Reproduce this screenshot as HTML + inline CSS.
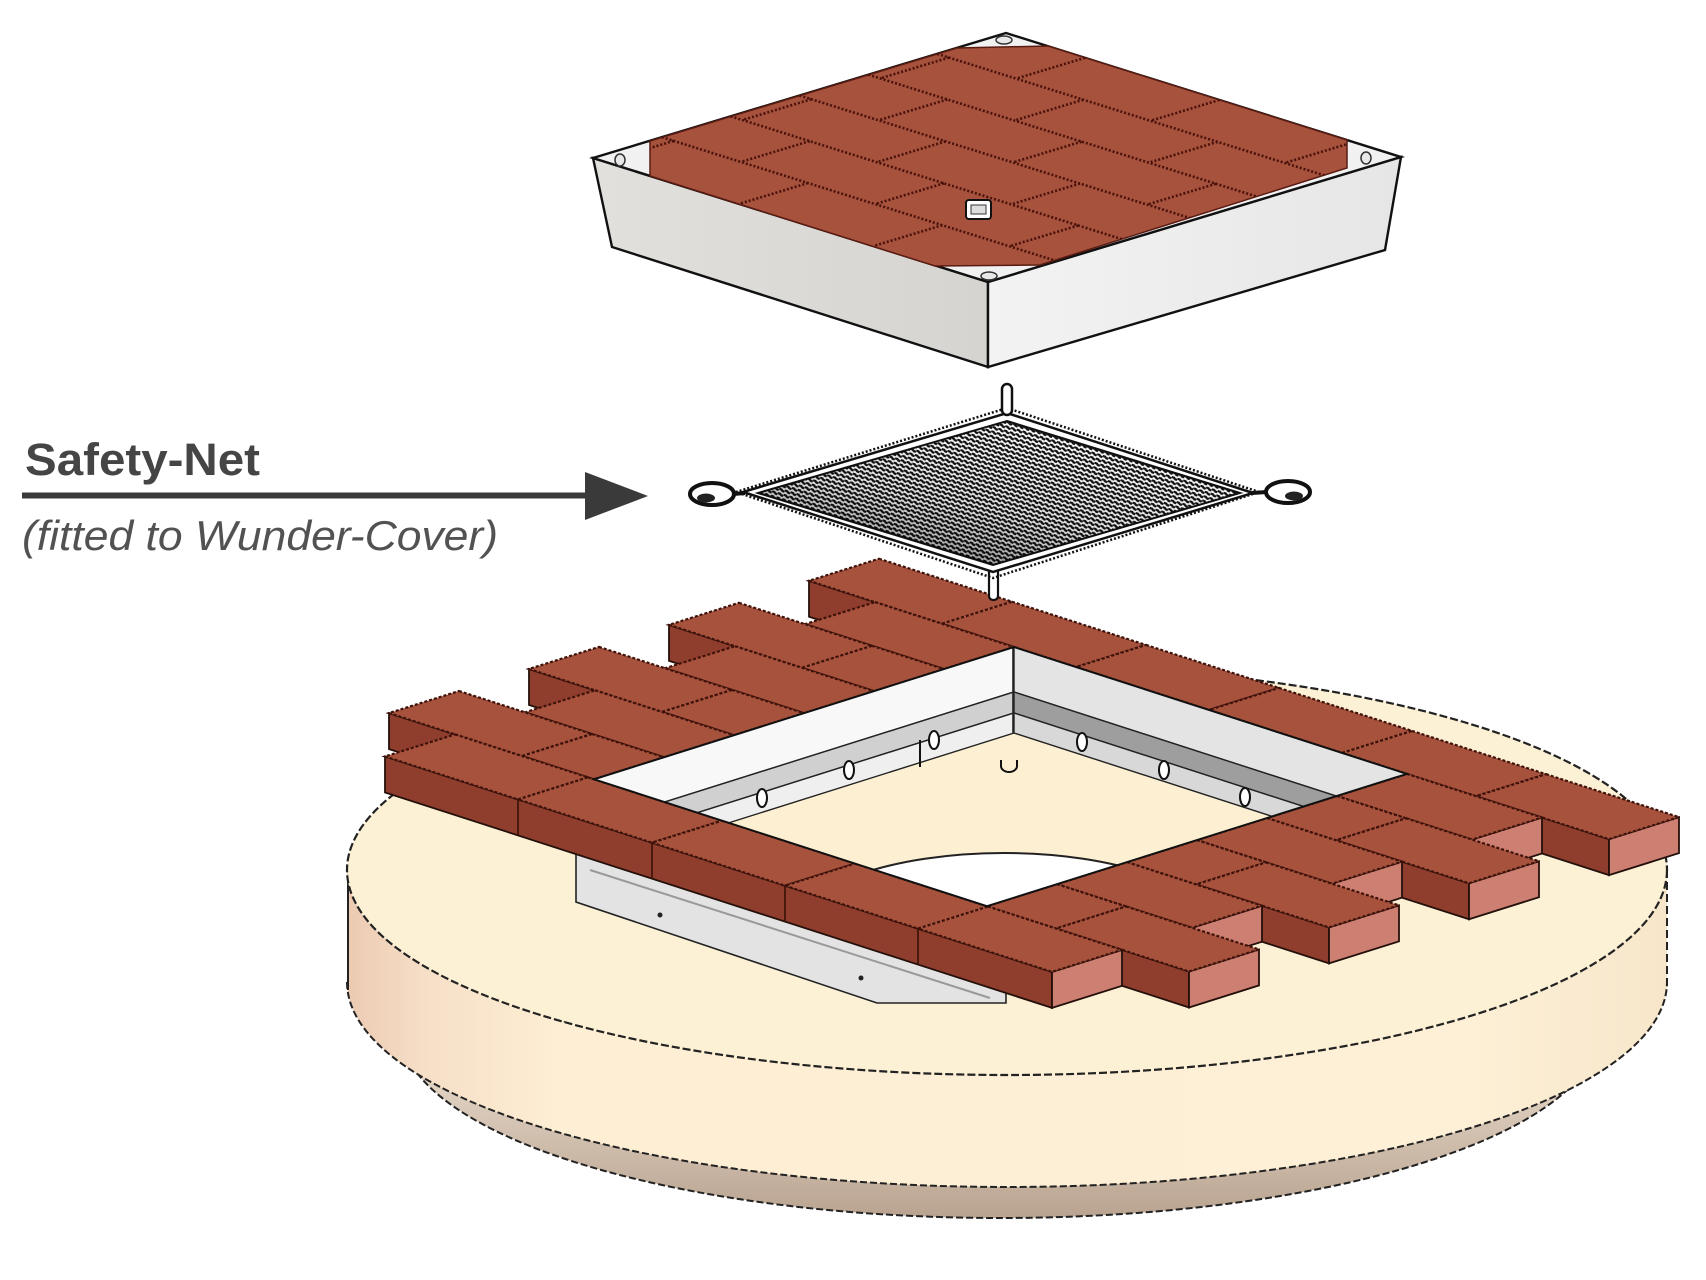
<!DOCTYPE html>
<html>
<head>
<meta charset="utf-8">
<style>
html,body{margin:0;padding:0;background:#fff;}
svg{display:block;}
.t{fill:#a7523d;stroke:#3e120a;stroke-width:2.2;stroke-dasharray:3 2;vector-effect:non-scaling-stroke;}
.sb{fill:#8f3d2c;stroke:#24100a;stroke-width:1.8;vector-effect:non-scaling-stroke;}
.se{fill:#cd7f71;stroke:#24100a;stroke-width:1.8;vector-effect:non-scaling-stroke;}
.w{stroke:#222;stroke-width:1.4;vector-effect:non-scaling-stroke;}
.ln{fill:none;stroke:#3a1208;stroke-width:1.6;vector-effect:non-scaling-stroke;}
</style>
</head>
<body>
<svg width="1706" height="1280" viewBox="0 0 1706 1280" xmlns="http://www.w3.org/2000/svg">
<defs>
  <linearGradient id="sideG" x1="0" y1="0" x2="1" y2="0">
    <stop offset="0" stop-color="#eccab2"/>
    <stop offset="0.06" stop-color="#f6dfc7"/>
    <stop offset="0.16" stop-color="#fdeed4"/>
    <stop offset="0.85" stop-color="#fdf0d6"/>
    <stop offset="1" stop-color="#f7e6ca"/>
  </linearGradient>
  <linearGradient id="bandG" x1="0" y1="0" x2="0" y2="1">
    <stop offset="0.6" stop-color="#e6d8c9"/>
    <stop offset="1" stop-color="#b9a390"/>
  </linearGradient>
  <linearGradient id="coverL" x1="0" y1="0" x2="1" y2="0">
    <stop offset="0" stop-color="#e2e0dc"/>
    <stop offset="1" stop-color="#d6d4d0"/>
  </linearGradient>
  <linearGradient id="coverR" x1="0" y1="0" x2="1" y2="0">
    <stop offset="0" stop-color="#f3f3f3"/>
    <stop offset="1" stop-color="#e6e6e6"/>
  </linearGradient>
  <linearGradient id="darkNet" x1="0" y1="1" x2="0.6" y2="0">
    <stop offset="0" stop-color="#000" stop-opacity="0.55"/>
    <stop offset="0.5" stop-color="#000" stop-opacity="0.12"/>
    <stop offset="1" stop-color="#000" stop-opacity="0"/>
  </linearGradient>
  <pattern id="mesh" width="6" height="4.5" patternUnits="userSpaceOnUse" patternTransform="rotate(17)">
    <rect width="6" height="4.5" fill="#fff"/>
    <path d="M0,1.6 Q1.5,0 3,1.6 T6,1.6" fill="none" stroke="#111" stroke-width="2.3"/>
  </pattern>
  <clipPath id="openClip">
    <polygon points="1014,647 1407,773.9 987,906.2 594,779.3"/>
  </clipPath>
  <clipPath id="redClip">
    <polygon points="957,48 1048,46 1347,140 1347,168 1040,265 935,266 650,176 650,141"/>
  </clipPath>
</defs>

<!-- ===== Base disc ===== -->
<ellipse cx="1000" cy="1028" rx="600" ry="190" fill="url(#bandG)" stroke="#222" stroke-width="2" stroke-dasharray="7 3"/>
<path d="M347,870 L347,982 A660,205 0 0 0 1667,982 L1667,870 Z" fill="url(#sideG)"/>
<path d="M347,982 A660,205 0 0 0 1667,982" fill="none" stroke="#222" stroke-width="2" stroke-dasharray="7 3"/>
<line x1="348" y1="870" x2="348" y2="990" stroke="#222" stroke-width="2"/>
<line x1="1667" y1="870" x2="1667" y2="990" stroke="#222" stroke-width="2" stroke-dasharray="8 4"/>
<ellipse cx="1007" cy="870" rx="660" ry="205" fill="#fdf1d5" stroke="#222" stroke-width="2.2" stroke-dasharray="8 3"/>

<!-- ===== Frame flange below front bricks ===== -->
<polygon points="576,845 576,902 877,1003 1006,1003 1006,988" fill="#e3e3e3" stroke="#222" stroke-width="1.6"/>
<line x1="590" y1="870" x2="990" y2="998" stroke="#999" stroke-width="2"/>
<circle cx="660" cy="915" r="2.5" fill="#222"/>
<circle cx="861" cy="978" r="2.5" fill="#222"/>

<!-- ===== Brick frame (iso coords) ===== -->
<g transform="matrix(1 0.323 -1 0.315 1014 647)">
  <!-- C1 -->
  <polygon class="sb" points="-205,0 595,0 651.4,56.4 -148.6,56.4"/>
  <polygon class="se" points="595,-70 651.4,-13.6 651.4,56.4 595,0"/>
  <rect class="t" x="-205" y="-70" width="133" height="70"/>
  <rect class="t" x="-72" y="-70" width="134" height="70"/>
  <rect class="t" x="62" y="-70" width="133" height="70"/>
  <rect class="t" x="195" y="-70" width="133" height="70"/>
  <rect class="t" x="328" y="-70" width="134" height="70"/>
  <rect class="t" x="462" y="-70" width="133" height="70"/>
  <!-- C2 -->
  <polygon class="sb" points="-139,70 0,70 56.4,126.4 -82.6,126.4"/>
  <rect class="t" x="-139" y="0" width="139" height="70"/>
  <polygon class="sb" points="393,70 528,70 584.4,126.4 449.4,126.4"/>
  <polygon class="se" points="528,0 584.4,56.4 584.4,126.4 528,70"/>
  <rect class="t" x="393" y="0" width="135" height="70"/>
  <!-- C3 -->
  <polygon class="sb" points="-205,140 0,140 56.4,196.4 -148.6,196.4"/>
  <rect class="t" x="-205" y="70" width="133" height="70"/>
  <rect class="t" x="-72" y="70" width="72" height="70"/>
  <polygon class="sb" points="393,140 595,140 651.4,196.4 449.4,196.4"/>
  <polygon class="se" points="595,70 651.4,126.4 651.4,196.4 595,140"/>
  <rect class="t" x="393" y="70" width="69" height="70"/>
  <rect class="t" x="462" y="70" width="133" height="70"/>
  <!-- C4 -->
  <polygon class="sb" points="-139,210 0,210 56.4,266.4 -82.6,266.4"/>
  <rect class="t" x="-139" y="140" width="139" height="70"/>
  <polygon class="sb" points="393,210 528,210 584.4,266.4 449.4,266.4"/>
  <polygon class="se" points="528,140 584.4,196.4 584.4,266.4 528,210"/>
  <rect class="t" x="393" y="140" width="135" height="70"/>
  <!-- C5 -->
  <polygon class="sb" points="-205,280 0,280 56.4,336.4 -148.6,336.4"/>
  <rect class="t" x="-205" y="210" width="133" height="70"/>
  <rect class="t" x="-72" y="210" width="72" height="70"/>
  <polygon class="sb" points="393,280 595,280 651.4,336.4 449.4,336.4"/>
  <polygon class="se" points="595,210 651.4,266.4 651.4,336.4 595,280"/>
  <rect class="t" x="393" y="210" width="69" height="70"/>
  <rect class="t" x="462" y="210" width="133" height="70"/>
  <!-- C6 -->
  <polygon class="sb" points="-139,350 0,350 56.4,406.4 -82.6,406.4"/>
  <rect class="t" x="-139" y="280" width="139" height="70"/>
  <polygon class="sb" points="393,350 528,350 584.4,406.4 449.4,406.4"/>
  <polygon class="se" points="528,280 584.4,336.4 584.4,406.4 528,350"/>
  <rect class="t" x="393" y="280" width="135" height="70"/>
  <!-- C7 -->
  <polygon class="sb" points="-205,420 0,420 56.4,476.4 -148.6,476.4"/>
  <rect class="t" x="-205" y="350" width="133" height="70"/>
  <rect class="t" x="-72" y="350" width="72" height="70"/>
  <polygon class="sb" points="393,420 595,420 651.4,476.4 449.4,476.4"/>
  <polygon class="se" points="595,350 651.4,406.4 651.4,476.4 595,420"/>
  <rect class="t" x="393" y="350" width="69" height="70"/>
  <rect class="t" x="462" y="350" width="133" height="70"/>
  <!-- C8 -->
  <polygon class="sb" points="-139,490 528,490 584.4,546.4 -82.6,546.4"/>
  <polygon class="se" points="528,420 584.4,476.4 584.4,546.4 528,490"/>
  <path class="ln" d="M-6,490 L50.4,546.4 M128,490 L184.4,546.4 M261,490 L317.4,546.4 M394,490 L450.4,546.4"/>
  <rect class="t" x="-139" y="420" width="133" height="70"/>
  <rect class="t" x="-6" y="420" width="134" height="70"/>
  <rect class="t" x="128" y="420" width="133" height="70"/>
  <rect class="t" x="261" y="420" width="133" height="70"/>
  <rect class="t" x="394" y="420" width="134" height="70"/>
</g>

<!-- ===== Opening interior ===== -->
<g clip-path="url(#openClip)">
  <rect x="580" y="640" width="840" height="280" fill="#fcefd2"/>
  <ellipse cx="1004" cy="935" rx="215" ry="82" fill="#fff" stroke="#222" stroke-width="2"/>
  <g transform="matrix(1 0.323 -1 0.315 1014 647)">
    <polygon class="w" points="0,0 0,420 70.5,490.5 70.5,70.5" fill="#f8f8f8"/>
    <polygon class="w" points="70.5,70.5 70.5,490.5 103.4,523.4 103.4,103.4" fill="#d0d0d0"/>
    <polygon class="w" points="103.4,103.4 103.4,523.4 134.8,554.8 134.8,134.8" fill="#efefef"/>
    <polygon class="w" points="0,0 393,0 463.5,70.5 70.5,70.5" fill="#e4e4e4"/>
    <polygon class="w" points="70.5,70.5 463.5,70.5 496.4,103.4 103.4,103.4" fill="#9e9e9e"/>
    <polygon class="w" points="103.4,103.4 496.4,103.4 527.8,134.8 134.8,134.8" fill="#d8d8d8"/>
  </g>
  <line x1="1013" y1="647" x2="1013" y2="733" stroke="#222" stroke-width="1.6"/>
  <!-- eyelets -->
  <g fill="#fff" stroke="#111" stroke-width="2">
    <ellipse cx="934" cy="740" rx="5" ry="9"/>
    <ellipse cx="849" cy="770" rx="5" ry="9"/>
    <ellipse cx="762" cy="798" rx="5" ry="9"/>
    <ellipse cx="1082" cy="742" rx="5" ry="9"/>
    <ellipse cx="1164" cy="770" rx="5" ry="9"/>
    <ellipse cx="1245" cy="797" rx="5" ry="9"/>
    <path d="M1001,760 v6 a8,6 0 0 0 16,0 v-6" fill="none"/>
  </g>
  <line x1="920" y1="740" x2="920" y2="767" stroke="#111" stroke-width="2"/>
</g>
<polygon points="1014,647 1407,773.9 987,906.2 594,779.3" fill="none" stroke="#111" stroke-width="2"/>

<!-- ===== Safety net ===== -->
<rect x="989" y="568" width="9" height="32" rx="4" fill="#fff" stroke="#111" stroke-width="2.2"/>
<polygon points="1007,408 1259,492 993,578 736,492" fill="none" stroke="#111" stroke-width="2.5" stroke-dasharray="2 2"/>
<polygon points="1007,413 1253,493 993,572 743,492" fill="#fff" stroke="#111" stroke-width="2.5"/>
<polygon points="1007,421 1240,493 993,565 758,493" fill="url(#mesh)" stroke="#111" stroke-width="2"/>
<polygon points="1007,421 1240,493 993,565 758,493" fill="url(#darkNet)"/>
<rect x="1002" y="384" width="10" height="31" rx="5" fill="#fff" stroke="#111" stroke-width="2.5"/>
<ellipse cx="712" cy="494" rx="22" ry="11" fill="#fff" stroke="#111" stroke-width="4"/>
<ellipse cx="706" cy="498" rx="9" ry="4.5" fill="#222"/>
<line x1="733" y1="494" x2="745" y2="493" stroke="#111" stroke-width="4"/>
<ellipse cx="1288" cy="492" rx="22" ry="11" fill="#fff" stroke="#111" stroke-width="4"/>
<ellipse cx="1294" cy="496" rx="9" ry="4.5" fill="#222"/>
<line x1="1252" y1="493" x2="1267" y2="492" stroke="#111" stroke-width="4"/>

<!-- ===== Cover ===== -->
<polygon points="593,158 988,282 988,367 612,247" fill="url(#coverL)" stroke="#111" stroke-width="2.4"/>
<polygon points="988,282 1401,157 1385,250 988,367" fill="url(#coverR)" stroke="#111" stroke-width="2.4"/>
<polygon points="1006,33 1401,157 988,282 593,158" fill="#f1f1f1" stroke="#111" stroke-width="2.4"/>
<polygon points="957,48 1048,46 1347,140 1347,168 1040,265 935,266 650,176 650,141" fill="#a6523d" stroke="#5a1c12" stroke-width="1.5"/>
<g clip-path="url(#redClip)">
  <g transform="matrix(3.95 1.24 -4.13 1.25 1006 33)">
    <path d="M0,16.67H100M0,33.33H100M0,50H100M0,66.67H100M0,83.33H100
             M20,0V16.67M54,0V16.67M88,0V16.67
             M3,16.67V33.33M37,16.67V33.33M71,16.67V33.33
             M20,33.33V50M54,33.33V50M88,33.33V50
             M3,50V66.67M37,50V66.67M71,50V66.67
             M20,66.67V83.33M54,66.67V83.33M88,66.67V83.33
             M3,83.33V100M37,83.33V100M71,83.33V100"
          fill="none" stroke="#4a120a" stroke-width="2.6" stroke-dasharray="2 2" vector-effect="non-scaling-stroke"/>
  </g>
</g>
<!-- corner tab holes -->
<g fill="#e8e8e8" stroke="#333" stroke-width="1.5">
  <ellipse cx="1004" cy="40" rx="8" ry="4"/>
  <ellipse cx="620" cy="160" rx="5" ry="6"/>
  <ellipse cx="1366" cy="158" rx="5" ry="6"/>
  <ellipse cx="989" cy="276" rx="8" ry="4"/>
</g>
<!-- center knob -->
<rect x="966" y="200" width="25" height="19" rx="3" fill="#fff" stroke="#111" stroke-width="2"/>
<rect x="971" y="205" width="15" height="9" fill="#ddd" stroke="#333" stroke-width="1"/>

<!-- ===== Label & arrow ===== -->
<line x1="22" y1="495.5" x2="592" y2="495.5" stroke="#3a3a3a" stroke-width="6"/>
<polygon points="585,472 648,496 585,520" fill="#3a3a3a"/>
<text x="25" y="475" font-family="Liberation Sans, sans-serif" font-size="45" font-weight="bold" fill="#454545" textLength="235" lengthAdjust="spacingAndGlyphs">Safety-Net</text>
<text x="22" y="550" font-family="Liberation Sans, sans-serif" font-size="42" font-style="italic" fill="#525252" textLength="476" lengthAdjust="spacingAndGlyphs">(fitted to Wunder-Cover)</text>
</svg>
</body>
</html>
